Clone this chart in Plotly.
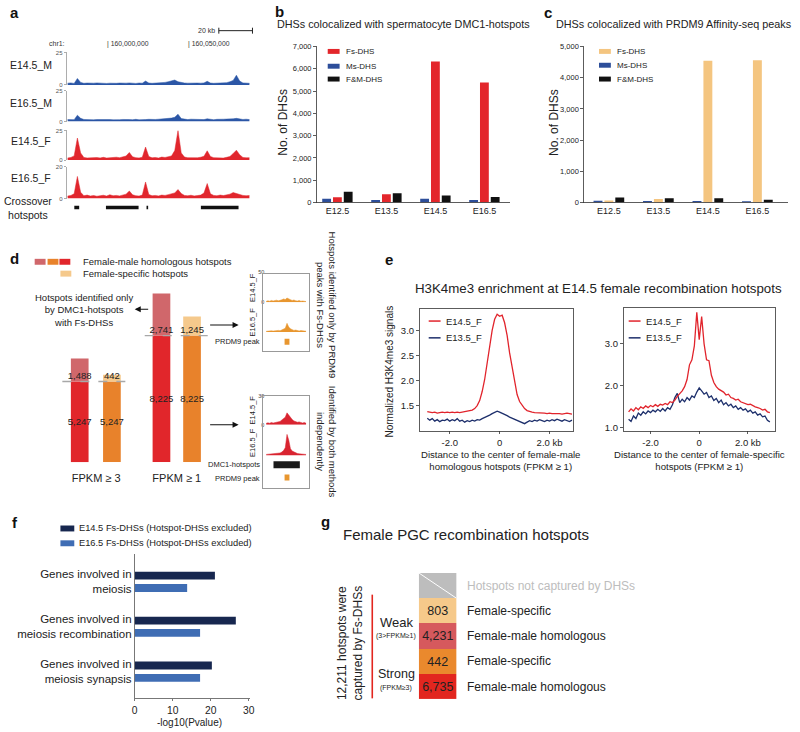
import plotly.graph_objects as go

W, H = 800, 732
FONT = "Liberation Sans, Arial, Helvetica, sans-serif"

# ======================= DATA =======================
# a: browser tracks, 2-kb bins starting 23 kb left of chr1:160,000,000
track_first_bin_kb = -23
track_bin_kb = 2
a_track_names = ["E14.5_M", "E16.5_M", "E14.5_F", "E16.5_F"]
a_track_max = [25, 25, 25, 20]
a_e145_m = [1.4, 1.6, 1.2, 5.0, 2.0, 1.3, 1.5, 1.2, 1.4, 1.6,
            1.3, 1.5, 1.2, 1.4, 1.1, 1.3, 1.5, 1.2, 1.4, 1.6,
            1.3, 1.2, 1.5, 1.4, 3.0, 1.5, 1.3, 1.4, 1.6, 1.8,
            2.0, 2.5, 3.0, 3.8, 2.5, 1.8, 1.5, 1.4, 1.6, 1.3,
            1.5, 1.4, 1.6, 2.8, 1.5, 1.3, 1.4, 1.2, 1.5, 1.8,
            2.5, 3.5, 7.5, 3.0, 1.6, 1.4, 1.3]
a_e165_m = [1.6, 1.8, 1.5, 5.2, 2.6, 1.7, 1.5, 1.8, 1.4, 1.6,
            1.7, 1.5, 1.3, 1.6, 1.4, 1.2, 1.5, 1.7, 1.4, 1.6,
            1.5, 1.8, 1.4, 1.3, 1.6, 1.8, 1.5, 1.7, 1.9, 2.1,
            2.0, 2.4, 2.8, 3.5, 6.0, 2.4, 1.8, 1.6, 1.9, 1.7,
            1.5, 1.8, 1.6, 2.2, 1.7, 1.5, 1.8, 1.6, 1.9, 2.0,
            1.8, 2.2, 2.6, 2.0, 1.7, 1.9, 1.6]
a_e145_f = [1.8, 2.2, 3.5, 18.6, 6.0, 2.2, 1.8, 2.0, 1.6, 2.1,
            1.8, 2.3, 1.7, 2.0, 1.9, 2.4, 2.0, 2.6, 3.4, 6.4,
            2.8, 2.0, 1.8, 2.4, 11.0, 3.0, 1.9, 2.2, 1.7, 2.5,
            2.2, 2.8, 3.5, 8.0, 25.0, 6.0, 2.5, 2.0, 1.8, 2.2,
            1.9, 2.4, 3.2, 7.8, 3.0, 2.0, 1.8, 2.1, 1.7, 2.3,
            3.0, 5.5, 8.3, 4.5, 2.2, 1.9, 2.0]
a_e165_f = [1.6, 2.0, 3.0, 14.0, 4.0, 1.8, 2.2, 1.6, 1.9, 1.5,
            1.8, 2.1, 1.6, 2.4, 1.8, 2.0, 1.7, 2.2, 2.8, 4.8,
            2.4, 1.8, 1.6, 2.2, 10.5, 2.6, 1.8, 2.0, 1.7, 2.2,
            2.0, 2.5, 3.0, 3.6, 5.7, 3.2, 2.0, 1.8, 2.1, 1.7,
            1.9, 2.2, 3.5, 9.5, 3.0, 2.0, 1.8, 2.2, 1.9, 2.4,
            2.8, 3.8, 3.2, 2.4, 2.0, 1.8, 1.9]
hotspot_start_kb = [-18.9, 0.6, 25.6, 59.1]
hotspot_end_kb = [-15.9, 20.7, 26.6, 82.3]

# b, c
stages = ["E12.5", "E13.5", "E14.5", "E16.5"]
dhs_types = ["Fs-DHS", "Ms-DHS", "F&M-DHS"]
b_fs = [236, 369, 6330, 5380]
b_ms = [164, 118, 164, 118]
b_fm = [487, 413, 310, 251]
b_ticks = [0, 1000, 2000, 3000, 4000, 5000, 6000, 7000]
c_fs = [68, 117, 4540, 4560]
c_ms = [60, 50, 50, 40]
c_fm = [158, 137, 137, 85]
c_ticks = [0, 1000, 2000, 3000, 4000, 5000]

# d
d_groups = ["FPKM ≥ 3", "FPKM ≥ 1"]
d_shared = [5247, 5247, 8225, 8225]
d_only = [1488, 442, 2741, 1245]
inset1_e145 = [1.5, 2.5, 1.8, 3.0, 2.2, 2.6, 3.5, 2.4, 3.0, 4.0, 5.5, 4.5,
               7.0, 5.0, 4.2, 3.0, 3.8, 2.5, 2.0, 3.0, 1.8, 2.2, 1.5, 1.2]
inset1_e165 = [1.0, 1.5, 1.2, 1.8, 1.4, 2.0, 1.6, 2.5, 2.0, 3.5, 4.0, 6.0,
               14.0, 8.0, 5.0, 3.5, 2.5, 3.0, 2.0, 1.6, 2.2, 1.5, 1.8, 1.2]
inset2_e145 = [1.5, 2.0, 1.6, 2.4, 1.8, 2.2, 2.8, 2.5, 3.5, 5.0, 6.5, 8.0,
               12.5, 10.0, 7.0, 5.5, 4.0, 3.2, 2.6, 3.0, 2.2, 1.8, 2.4, 1.6]
inset2_e165 = [1.0, 1.2, 1.0, 1.4, 1.2, 1.5, 1.8, 2.0, 2.5, 3.5, 5.0, 8.0,
               22.0, 16.0, 7.0, 4.5, 3.5, 2.5, 2.0, 1.6, 1.4, 1.2, 1.3, 1.0]
inset_prdm9_bins = [10.6, 13.4]
inset_dmc1_bins = [4.2, 19.4]

# e
e_dist_kb = [round(-2.9 + 0.1 * i, 1) for i in range(59)]
e1_e145 = [1.38, 1.37, 1.36, 1.37, 1.35, 1.36, 1.37, 1.36, 1.37, 1.36,
           1.37, 1.36, 1.37, 1.36, 1.37, 1.37, 1.38, 1.39, 1.41, 1.44,
           1.50, 1.60, 1.78, 2.02, 2.35, 2.70, 3.00, 3.22, 3.32, 3.28,
           3.30, 3.15, 2.90, 2.55, 2.25, 1.95, 1.72, 1.58, 1.50, 1.44,
           1.40, 1.38, 1.37, 1.36, 1.36, 1.35, 1.36, 1.35, 1.34, 1.35,
           1.34, 1.34, 1.35, 1.34, 1.33, 1.34, 1.35, 1.34, 1.33]
e1_e135 = [1.25, 1.21, 1.24, 1.19, 1.22, 1.18, 1.21, 1.20, 1.23, 1.19,
           1.22, 1.20, 1.24, 1.19, 1.21, 1.17, 1.20, 1.18, 1.21, 1.19,
           1.22, 1.21, 1.24, 1.26, 1.28, 1.31, 1.34, 1.36, 1.39, 1.37,
           1.35, 1.33, 1.30, 1.27, 1.25, 1.23, 1.20, 1.18, 1.16, 1.14,
           1.17, 1.20, 1.18, 1.21, 1.19, 1.22, 1.20, 1.18, 1.21, 1.19,
           1.22, 1.20, 1.23, 1.21, 1.19, 1.22, 1.20, 1.18, 1.21]
e2_e145 = [1.38, 1.45, 1.40, 1.48, 1.43, 1.50, 1.46, 1.52, 1.48, 1.53,
           1.50, 1.55, 1.51, 1.56, 1.54, 1.58, 1.55, 1.62, 1.60, 1.66,
           1.75, 1.82, 1.88, 1.98, 2.15, 2.50, 2.62, 2.95, 3.75, 3.10,
           3.65, 3.00, 2.62, 2.60, 2.25, 2.08, 1.98, 1.92, 1.88, 1.85,
           1.78, 1.80, 1.72, 1.70, 1.66, 1.68, 1.62, 1.60, 1.58, 1.55,
           1.56, 1.52, 1.50, 1.48, 1.46, 1.42, 1.44, 1.38, 1.36]
e2_e135 = [1.20, 1.15, 1.28, 1.22, 1.35, 1.30, 1.38, 1.33, 1.40, 1.36,
           1.42, 1.38, 1.44, 1.39, 1.46, 1.40, 1.48, 1.44, 1.55, 1.72,
           1.82, 1.60, 1.68, 1.62, 1.72, 1.66, 1.76, 1.72, 1.85, 1.95,
           1.88, 1.80, 1.84, 1.72, 1.76, 1.65, 1.70, 1.60, 1.66, 1.55,
           1.60, 1.52, 1.56, 1.48, 1.52, 1.44, 1.48, 1.42, 1.45, 1.38,
           1.42, 1.35, 1.38, 1.30, 1.33, 1.26, 1.28, 1.18, 1.14]
e_series = ["E14.5_F", "E13.5_F"]

# f
f_terms = ["Genes involved in<br>meiosis",
           "Genes involved in<br>meiosis recombination",
           "Genes involved in<br>meiosis synapsis"]
f_series = ["E14.5 Fs-DHSs (Hotspot-DHSs excluded)",
            "E16.5 Fs-DHSs (Hotspot-DHSs excluded)"]
f_e145 = [21.1, 26.6, 20.3]
f_e165 = [13.8, 17.2, 17.2]
f_ticks = [0, 10, 20, 30]

# g  (bottom to top)
g_counts = [6735, 442, 4231, 803, None]
g_kinds = ["Female-male homologous", "Female-specific",
           "Female-male homologous", "Female-specific",
           "Hotspots not captured by DHSs"]

# ======================= STYLE =======================
BLUE_A, RED_A = "#2b56a6", "#e1262d"
B_RED, B_BLUE, BLACK = "#e3262b", "#2d4e9a", "#111111"
C_PEACH = "#f4c580"
D_PINK, D_RED, D_ORANGE, D_LORANGE = "#d0676b", "#e1262b", "#e8822b", "#f5c98c"
IN_ORANGE, IN_RED = "#e8962f", "#d92430"
E_RED, E_BLUE = "#e1242c", "#1d2f6b"
F_DARK, F_LIGHT = "#17274f", "#3f6db4"
G_COLORS = ["#e2261f", "#ea892d", "#d6595d", "#f6c98a", "#bdbdbd"]

fig = go.Figure()
layout = {}
ann = []
shp = []
axn = [0]


def X(p):
    return p / W


def Y(p):
    return 1 - p / H


def axes(x0, x1, top, bottom, xa=None, ya=None):
    axn[0] += 1
    k = axn[0]
    s = "" if k == 1 else str(k)
    base = dict(showgrid=False, zeroline=False, showticklabels=False, ticks="",
                showline=False, fixedrange=True)
    xd = dict(base, domain=[X(x0), X(x1)], anchor="y" + s)
    yd = dict(base, domain=[Y(bottom), Y(top)], anchor="x" + s)
    if xa:
        xd.update(xa)
    if ya:
        yd.update(ya)
    layout["xaxis" + s] = xd
    layout["yaxis" + s] = yd
    return "x" + s, "y" + s


def note(text, x, y, size=10, color="#222", xanchor="center", angle=0, yanchor="middle"):
    ann.append(dict(text=text, x=X(x), y=Y(y), xref="paper", yref="paper",
                    xanchor=xanchor, yanchor=yanchor, showarrow=False, textangle=angle,
                    font=dict(size=size, color=color, family=FONT)))


def rect(x0, y0, x1, y1, color):
    shp.append(dict(type="rect", xref="paper", yref="paper", x0=X(x0), x1=X(x1),
                    y0=Y(y1), y1=Y(y0), fillcolor=color, line=dict(width=0)))


def seg(x0, y0, x1, y1, color, width=1, dash="solid"):
    shp.append(dict(type="line", xref="paper", yref="paper", x0=X(x0), x1=X(x1),
                    y0=Y(y0), y1=Y(y1), line=dict(color=color, width=width, dash=dash)))


def arrow(x_head, y, dx):
    ann.append(dict(text="", x=X(x_head), y=Y(y), xref="paper", yref="paper",
                    ax=dx, ay=0, showarrow=True, arrowhead=2, arrowsize=1.1,
                    arrowwidth=1.1, arrowcolor="#111"))


# panel letters
for lt, x, y in [("a", 12, 9), ("b", 279, 8), ("c", 550, 9), ("d", 12, 258),
                 ("e", 390, 259), ("f", 12, 525), ("g", 326, 524)]:
    note("<b>%s</b>" % lt, x, y, size=15, color="#111")

# ======================= PANEL A =======================
track_pos = [track_first_bin_kb + track_bin_kb * i for i in range(len(a_e145_m))]
a_range = [-23.8, 90.9]
a_vals = [a_e145_m, a_e165_m, a_e145_f, a_e165_f]
a_cols = [BLUE_A, BLUE_A, RED_A, RED_A]
a_boxes = [(49, 82), (88, 119), (128, 158), (165, 197)]
a_label_y = [62, 100, 139, 176]
for i in range(4):
    top, bottom = a_boxes[i]
    xa, ya = axes(64, 252, top, bottom, dict(range=a_range),
                  dict(range=[0, a_track_max[i]], tickvals=[0, a_track_max[i]],
                       showticklabels=True, ticks="outside", ticklen=2, tickwidth=0.6,
                       tickcolor="#777", showline=True, linecolor="#777", linewidth=0.6,
                       tickfont=dict(size=6, color="#555")))
    fig.add_trace(go.Scatter(x=track_pos, y=a_vals[i], xaxis=xa, yaxis=ya, mode="lines",
                             line=dict(color=a_cols[i], width=0.5), fill="tozeroy",
                             fillcolor=a_cols[i], showlegend=False, hoverinfo="skip"))
    note(a_track_names[i], 28, a_label_y[i], size=10.5)

hx, hy = [], []
for s, e in zip(hotspot_start_kb, hotspot_end_kb):
    hx += [s, e, None]
    hy += [0, 0, None]
xa, ya = axes(64, 252, 202, 210, dict(range=a_range), dict(range=[-1, 1]))
fig.add_trace(go.Scatter(x=hx, y=hy, xaxis=xa, yaxis=ya, mode="lines",
                         line=dict(color="#111", width=3.5), showlegend=False, hoverinfo="skip"))
note("Crossover<br>hotspots", 25, 207, size=10.5)
note("chr1:", 55, 40, size=7, color="#333")
note("| 160,000,000", 103, 40, size=6.8, color="#333", xanchor="left")
note("| 160,050,000", 185, 40, size=6.8, color="#333", xanchor="left")
note("20 kb", 216, 27, size=7, color="#333", xanchor="right")
seg(218, 27, 252, 27, "#222", 1)
seg(218, 24, 218, 30, "#222", 1)
seg(252, 24, 252, 30, "#222", 1)

# ======================= PANELS B, C =======================
def grouped_panel(x0, x1, xr, ymax, ticks, fs, ms, fm, fs_col, title, title_x, leg_x, leg_ys, ylab_x):
    xa, ya = axes(x0, x1, 43, 201,
                  dict(type="category", range=xr, showticklabels=True,
                       tickfont=dict(size=9, color="#222"), showline=True,
                       linecolor="#333", linewidth=0.8),
                  dict(range=[0, ymax], tickvals=ticks, tickformat=",d", showticklabels=True,
                       ticks="outside", ticklen=3, tickwidth=0.8, tickcolor="#333",
                       showline=True, linecolor="#333", linewidth=0.8,
                       tickfont=dict(size=7.5, color="#222")))
    for vals, col, off in [(ms, B_BLUE, -0.31), (fs, fs_col, -0.09), (fm, BLACK, 0.13)]:
        fig.add_trace(go.Bar(x=stages, y=vals, xaxis=xa, yaxis=ya, width=0.18, offset=off,
                             marker=dict(color=col, line=dict(width=0)),
                             showlegend=False, hoverinfo="skip"))
    note(title, title_x, 20, size=10.8, xanchor="left")
    note("No. of DHSs", ylab_x, 120, size=12, angle=-90)
    for lab, col, yy in zip(dhs_types, [fs_col, B_BLUE, BLACK], leg_ys):
        rect(leg_x, yy - 2.5, leg_x + 12, yy + 2.5, col)
        note(lab, leg_x + 16, yy, size=8, xanchor="left")


grouped_panel(317, 512, [-0.42, 3.52], 7000, b_ticks, b_fs, b_ms, b_fm, B_RED,
              "DHSs colocalized with spermatocyte DMC1-hotspots", 275, 328, [48, 63, 76], 282)
grouped_panel(587, 793, [-0.5, 3.62], 5000, c_ticks, c_fs, c_ms, c_fm, C_PEACH,
              "DHSs colocalized with PRDM9 Affinity-seq peaks", 557, 602, [48, 62, 76], 556)

# ======================= PANEL D =======================
d_pos = [0, 1, 2.54, 3.49]
xa, ya = axes(50, 215, 280, 464,
              dict(range=[-0.846, 4.23], tickvals=[0.51, 3.015], ticktext=d_groups,
                   showticklabels=True, ticks="outside", ticklen=6, tickcolor="rgba(0,0,0,0)",
                   tickfont=dict(size=11, color="#222")),
              dict(range=[0, 11800]))
fig.add_trace(go.Bar(x=d_pos, y=d_shared, xaxis=xa, yaxis=ya, width=0.55,
                     marker=dict(color=[D_RED, D_ORANGE, D_RED, D_ORANGE], line=dict(width=0)),
                     text=[f"{v:,}" for v in d_shared], textposition="inside",
                     insidetextanchor="middle", textangle=0, constraintext="none",
                     textfont=dict(size=9.5, color="#222"),
                     insidetextfont=dict(size=9.5, color="#222"),
                     showlegend=False, hoverinfo="skip"))
fig.add_trace(go.Bar(x=d_pos, y=d_only, base=d_shared, xaxis=xa, yaxis=ya, width=0.55,
                     marker=dict(color=[D_PINK, D_LORANGE, D_PINK, D_LORANGE], line=dict(width=0)),
                     showlegend=False, hoverinfo="skip"))
fig.add_trace(go.Scatter(x=[d_pos[0] - 0.54, d_pos[1] + 0.55, None, d_pos[2] - 0.52, d_pos[3] + 0.59],
                         y=[d_shared[0], d_shared[1], None, d_shared[2], d_shared[3]],
                         xaxis=xa, yaxis=ya, mode="lines",
                         line=dict(color="#a8a8a8", width=1.3, dash="dash"),
                         showlegend=False, hoverinfo="skip", cliponaxis=False))
fig.add_trace(go.Scatter(x=d_pos, y=d_shared, xaxis=xa, yaxis=ya, mode="text",
                         text=[f"{v:,}" for v in d_only], textposition="top center",
                         textfont=dict(size=9.5, color="#222"), cliponaxis=False,
                         showlegend=False, hoverinfo="skip"))
# legend d
for x0, col in [(32, D_PINK), (45, D_ORANGE), (57, D_RED)]:
    rect(x0, 258, x0 + 11, 264, col)
rect(58, 270, 69, 276, D_LORANGE)
note("Female-male homologous hotspots", 79, 261, size=9.5, xanchor="left")
note("Female-specific hotspots", 79, 273, size=9.5, xanchor="left")
note("Hotspots identified only<br>by DMC1-hotspots<br>with Fs-DHSs", 82, 310, size=9.5)
arrow(133, 309, 15)
arrow(238, 325, -30)
arrow(238, 426, -30)

# insets
inset_bins = list(range(len(inset1_e145)))
inset_xr = [-0.5, 23.5]
inset_specs = [(inset1_e145, 50, 271, 302, IN_ORANGE, True),
               (inset1_e165, 50, 301, 332, IN_ORANGE, False),
               (inset2_e145, 30, 397, 426, IN_RED, True),
               (inset2_e165, 30, 428, 457, IN_RED, False)]
for vals, ymax, top, bottom, col, show in inset_specs:
    yax = dict(range=[0, ymax])
    if show:
        yax.update(tickvals=[0, ymax], showticklabels=True, tickfont=dict(size=5.5, color="#444"))
    xa, ya = axes(265, 307, top, bottom, dict(range=inset_xr), yax)
    fig.add_trace(go.Scatter(x=inset_bins, y=vals, xaxis=xa, yaxis=ya, mode="lines",
                             line=dict(color=col, width=0.5), fill="tozeroy", fillcolor=col,
                             showlegend=False, hoverinfo="skip"))
xa, ya = axes(265, 307, 336, 348, dict(range=inset_xr), dict(range=[-0.5, 0.5]))
fig.add_trace(go.Scatter(x=inset_prdm9_bins, y=[0, 0], xaxis=xa, yaxis=ya, mode="lines",
                         line=dict(color=IN_ORANGE, width=6), showlegend=False, hoverinfo="skip"))
xa, ya = axes(265, 307, 460, 486, dict(range=inset_xr), dict(range=[-0.5, 1.5]))
fig.add_trace(go.Scatter(x=inset_dmc1_bins, y=[1, 1], xaxis=xa, yaxis=ya, mode="lines",
                         line=dict(color="#1a1a1a", width=7), showlegend=False, hoverinfo="skip"))
fig.add_trace(go.Scatter(x=inset_prdm9_bins, y=[0, 0], xaxis=xa, yaxis=ya, mode="lines",
                         line=dict(color=IN_ORANGE, width=6), showlegend=False, hoverinfo="skip"))
frame = dict(range=[0, 1], showline=True, mirror=True, linecolor="#999", linewidth=1)
for top, bottom in [(273, 351), (397, 490)]:
    xa, ya = axes(263, 309, top, bottom, frame, frame)
    fig.add_trace(go.Scatter(x=[], y=[], xaxis=xa, yaxis=ya, showlegend=False))
for lab, yy in [("E14.5_F", 287), ("E16.5_F", 322), ("E14.5_F", 411), ("E16.5_F", 444)]:
    note(lab, 252, yy, size=7.5, angle=-90)
note("PRDM9 peak", 262, 342, size=7.5, xanchor="right")
note("DMC1-hotspots", 262, 466, size=7.5, xanchor="right")
note("PRDM9 peak", 262, 480, size=7.5, xanchor="right")
note("Hotspots identified only by PRDM9<br>peaks with Fs-DHSs", 327, 305, size=9.5, angle=90)
note("Identified by both methods<br>independently", 327, 443, size=9.5, angle=90)

# ======================= PANEL E =======================
note("H3K4me3 enrichment at E14.5 female recombination hotspots", 602, 288, size=13.3)
note("Normalized H3K4me3 signals", 390, 372, size=10, angle=-90)
e_box = dict(showline=True, mirror=True, linecolor="#333", linewidth=0.8, ticks="outside",
             ticklen=3, tickwidth=0.8, tickcolor="#333", showticklabels=True,
             tickfont=dict(size=9.5, color="#222"))
e_xt = dict(tickvals=[-2, 0, 2], ticktext=["-2.0", "0", "2.0 kb"])
panels_e = [
    (421, 576, 309, 432, [-3.2, 2.95], [1.0, 3.42], [1.5, 2.0, 2.5, 3.0], e1_e145, e1_e135,
     430, 503, "Distance to the center of female-male<br>homologous hotspots (FPKM ≥ 1)"),
    (627, 780, 308, 432, [-3.1, 3.12], [0.93, 3.85], [1.0, 2.0, 3.0], e2_e145, e2_e135,
     632, 704, "Distance to the center of female-specific<br>hotspots (FPKM ≥ 1)"),
]
for x0, x1, top, bottom, xr, yr, yt, red, blue, lx, tx, ttl in panels_e:
    xa, ya = axes(x0, x1, top, bottom, dict(e_box, range=xr, **e_xt),
                  dict(e_box, range=yr, tickvals=yt, ticktext=["%.1f" % v for v in yt]))
    fig.add_trace(go.Scatter(x=e_dist_kb, y=blue, xaxis=xa, yaxis=ya, mode="lines",
                             line=dict(color=E_BLUE, width=1.3), showlegend=False, hoverinfo="skip"))
    fig.add_trace(go.Scatter(x=e_dist_kb, y=red, xaxis=xa, yaxis=ya, mode="lines",
                             line=dict(color=E_RED, width=1.3), showlegend=False, hoverinfo="skip"))
    for lab, col, yy in zip(e_series, [E_RED, E_BLUE], [321, 338]):
        seg(lx, yy, lx + 12, yy, col, 1.5)
        note(lab, lx + 15, yy, size=9.5, xanchor="left")
    note(ttl, tx, 462, size=9.6)

# ======================= PANEL F =======================
xa, ya = axes(133, 249, 557, 703,
              dict(range=[0, 30.2], tickvals=f_ticks, showticklabels=True, ticks="outside",
                   ticklen=2, tickwidth=0.8, tickcolor="#555", showline=True, linecolor="#555",
                   linewidth=0.8, tickfont=dict(size=10.3, color="#222")),
              dict(type="category", range=[2.593, -0.615], showline=True, linecolor="#555",
                   linewidth=0.8, showticklabels=True, tickfont=dict(size=11.5, color="#222")))
fig.add_trace(go.Bar(y=f_terms, x=f_e145, orientation="h", xaxis=xa, yaxis=ya, width=0.176,
                     offset=-0.225, marker=dict(color=F_DARK, line=dict(width=0)),
                     showlegend=False, hoverinfo="skip"))
fig.add_trace(go.Bar(y=f_terms, x=f_e165, orientation="h", xaxis=xa, yaxis=ya, width=0.176,
                     offset=0.049, marker=dict(color=F_LIGHT, line=dict(width=0)),
                     showlegend=False, hoverinfo="skip"))
note("-log10(Pvalue)", 188, 727, size=10)
for lab, col, yy in zip(f_series, [F_DARK, F_LIGHT], [531, 546]):
    rect(58, yy - 3, 72, yy + 3, col)
    note(lab, 75, yy, size=9.3, xanchor="left")

# ======================= PANEL G =======================
note("Female PGC recombination hotspots", 341, 537, size=15, xanchor="left")
xa, ya = axes(420, 458, 576, 704, dict(range=[-0.5, 0.5]), dict(range=[-0.5, 4.5]))
n_g = len(g_counts)
fig.add_trace(go.Heatmap(z=[[k] for k in range(n_g)], x=[0], y=list(range(n_g)),
                         xaxis=xa, yaxis=ya, zmin=0, zmax=n_g - 1, showscale=False,
                         colorscale=[[k / (n_g - 1), G_COLORS[k]] for k in range(n_g)],
                         text=[["" if v is None else f"{v:,}"] for v in g_counts],
                         texttemplate="%{text}", textfont=dict(size=12.5, color="#222"),
                         hoverinfo="skip"))
fig.add_trace(go.Scatter(x=[-0.5, 0.5], y=[n_g - 0.5, n_g - 1.5], xaxis=xa, yaxis=ya,
                         mode="lines", line=dict(color="white", width=1),
                         showlegend=False, hoverinfo="skip"))
for k, lab in enumerate(g_kinds):
    ann.append(dict(text=lab, x=0.5, y=k, xref=xa, yref=ya, xanchor="left", yanchor="middle",
                    xshift=9, showarrow=False,
                    font=dict(size=12, family=FONT, color="#bdbdbd" if g_counts[k] is None else "#222")))
seg(373, 598, 373, 703, "#e2261f", 1.6)
note("Weak", 397, 626, size=13)
note("(3>FPKM≥1)", 397, 640, size=7)
note("Strong", 397, 678, size=12.5)
note("(FPKM≥3)", 397, 693, size=7)
note("12,211 hotspots were<br>captured by Fs-DHSs", 351, 647, size=12, angle=-90)

layout.update(width=W, height=H, autosize=False, margin=dict(l=0, r=0, t=0, b=0),
              paper_bgcolor="white", plot_bgcolor="rgba(0,0,0,0)", barmode="overlay",
              font=dict(family=FONT, color="#222"), annotations=ann, shapes=shp,
              showlegend=False, hovermode=False)
fig.update_layout(**layout)
fig.write_html("out.html", config={"displayModeBar": False, "staticPlot": True},
               post_script="document.body.style.margin='0px';document.body.style.overflow='hidden';")
